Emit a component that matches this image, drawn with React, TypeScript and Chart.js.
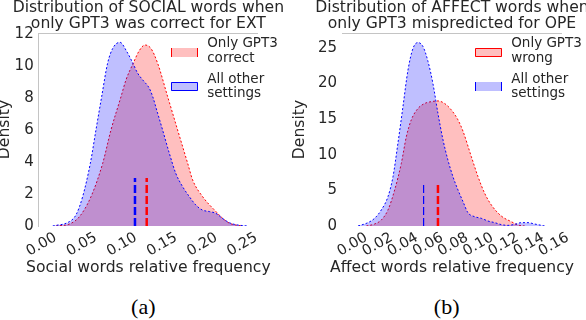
import React, { useEffect, useRef } from "react";
import { Chart, registerables } from "chart.js";

Chart.register(...registerables);

const FONT = "'DejaVu Sans', sans-serif";
const TEXT = "#262626";
const SPINE = "#c4c4c4";
const RED = "rgb(255,0,0)";
const BLUE = "rgb(0,0,255)";
const RED_FILL = "rgba(255,0,0,0.25)";
const BLUE_FILL = "rgba(0,0,255,0.25)";

// ---------- Panel (a) ----------
const titleA = ["Distribution of SOCIAL words when", "only GPT3 was correct for EXT"];
const xLabelA = "Social words relative frequency";
const xTicksA = [0, 0.05, 0.1, 0.15, 0.2, 0.25];
const xTickLabelsA = ["0.00", "0.05", "0.10", "0.15", "0.20", "0.25"];
const yTicksA = [0, 2, 4, 6, 8, 10, 12];
const legendA = [["Only GPT3", "correct"], ["All other", "settings"]];
const redXA = [0.0178, 0.0344, 0.047, 0.0614, 0.076, 0.0863, 0.0988, 0.105, 0.114, 0.1216, 0.1286, 0.136, 0.1444, 0.1569, 0.1693, 0.1818, 0.188, 0.2005, 0.2171, 0.2254, 0.234, 0.242, 0.25];
const redYA = [0, 0.12, 0.58, 1.83, 3.92, 6.0, 8.08, 9.13, 10.17, 10.96, 11.31, 11.1, 10.17, 8.08, 6.0, 3.92, 2.88, 1.83, 0.9, 0.48, 0.17, 0.06, 0];
const blueXA = [0.0137, 0.0344, 0.0427, 0.051, 0.0606, 0.0676, 0.0747, 0.0821, 0.0885, 0.0975, 0.106, 0.1133, 0.1195, 0.1258, 0.1341, 0.1383, 0.1444, 0.1506, 0.159, 0.167, 0.1755, 0.184, 0.192, 0.2, 0.209, 0.217, 0.225, 0.234, 0.242, 0.2565];
const blueYA = [0, 0.27, 0.69, 1.83, 3.92, 6.0, 8.08, 10.17, 11.1, 11.48, 10.9, 10.2, 9.55, 9.13, 8.6, 8.08, 7.05, 6.0, 4.54, 3.29, 2.46, 1.83, 1.31, 1.0, 0.9, 0.79, 0.48, 0.2, 0.08, 0];
const meanXA = [0.1308, 0.1162]; // [red, blue]
const meanTopA = 3;

// ---------- Panel (b) ----------
const titleB = ["Distribution of AFFECT words when", "only GPT3 mispredicted for OPE"];
const xLabelB = "Affect words relative frequency";
const xTicksB = [0, 0.02, 0.04, 0.06, 0.08, 0.1, 0.12, 0.14, 0.16];
const xTickLabelsB = ["0.00", "0.02", "0.04", "0.06", "0.08", "0.10", "0.12", "0.14", "0.16"];
const yTicksB = [0, 5, 10, 15, 20, 25];
const legendB = [["Only GPT3", "wrong"], ["All other", "settings"]];
const redXB = [0.011, 0.0176, 0.0229, 0.0282, 0.0335, 0.0388, 0.0428, 0.0467, 0.052, 0.0573, 0.0626, 0.0679, 0.0732, 0.0785, 0.0838, 0.0878, 0.0944, 0.0997, 0.105, 0.1103, 0.1182, 0.1262, 0.1315, 0.1368];
const redYB = [0, 0.28, 0.84, 2.25, 5.06, 8.8, 12.55, 14.9, 16.5, 17.2, 17.46, 17.56, 17.2, 16.3, 14.9, 13.3, 9.74, 6.93, 4.59, 2.95, 1.4, 0.6, 0.14, 0];
const blueXB = [0.0044, 0.0123, 0.0176, 0.0229, 0.0282, 0.0322, 0.0361, 0.0401, 0.0441, 0.0481, 0.052, 0.056, 0.06, 0.0639, 0.0679, 0.0719, 0.0758, 0.0798, 0.0838, 0.0878, 0.0917, 0.097, 0.1023, 0.1076, 0.113, 0.1183, 0.1235, 0.1288, 0.1341, 0.1394, 0.1447, 0.1526];
const blueYB = [0, 0.47, 1.08, 2.25, 4.12, 6.93, 11.6, 16.76, 21.9, 24.95, 25.75, 25.2, 23.1, 20.0, 15.8, 12.1, 9.27, 6.93, 5.06, 3.42, 1.87, 1.31, 1.08, 0.7, 0.47, 0.19, 0.09, 0.23, 0.47, 0.47, 0.28, 0];
const meanXB = [0.0679, 0.0565]; // [red, blue]
const meanTopB = 6;

type Spec = {
  title: string[];
  xLabel: string;
  xMin: number;
  xMax: number;
  yMax: number;
  xTicks: number[];
  xTickLabels: string[];
  yTicks: number[];
  legend: string[][];
  legendFull: boolean[];
  redX: number[];
  redY: number[];
  blueX: number[];
  blueY: number[];
  meanX: number[];
  meanTop: number;
  meanWidths: number[];
  yAxisWidth: number;
  yTitlePad: number;
  padRight: number;
  leftSpine: boolean;
};

const specA: Spec = {
  title: titleA, xLabel: xLabelA, xMin: -0.0037, xMax: 0.2694, yMax: 12.06,
  xTicks: xTicksA, xTickLabels: xTickLabelsA, yTicks: yTicksA, legend: legendA,
  legendFull: [false, true], redX: redXA, redY: redYA, blueX: blueXA, blueY: blueYA,
  meanX: meanXA, meanTop: meanTopA, meanWidths: [2.5, 2.5],
  yAxisWidth: 38.7, yTitlePad: -2.6, padRight: 32, leftSpine: true,
};

const specB: Spec = {
  title: titleB, xLabel: xLabelB, xMin: -0.0083, xMax: 0.1664, yMax: 27.1,
  xTicks: xTicksB, xTickLabels: xTickLabelsB, yTicks: yTicksB, legend: legendB,
  legendFull: [true, false], redX: redXB, redY: redYB, blueX: blueXB, blueY: blueYB,
  meanX: meanXB, meanTop: meanTopB, meanWidths: [2.5, 1.2],
  yAxisWidth: 52, yTitlePad: 2.4, padRight: 24, leftSpine: false,
};

function buildConfig(s: Spec): any {
  const pts = (xs: number[], ys: number[]) => xs.map((x, i) => ({ x, y: ys[i] }));

  // Panel title and x-axis label (drawn without Chart.js' maxWidth squeezing)
  const textPlugin = {
    id: "panelTexts",
    afterDraw(chart: any) {
      const { ctx, chartArea } = chart;
      ctx.save();
      ctx.font = `15.6px ${FONT}`;
      ctx.fillStyle = TEXT;
      ctx.textAlign = "center";
      ctx.textBaseline = "middle";
      const cx = (chartArea.left + chartArea.right) / 2;
      s.title.forEach((line, i) => {
        ctx.fillText(line, cx, chartArea.top - 25.3 + i * 16.7);
      });
      ctx.fillText(s.xLabel, cx, chartArea.bottom + 41.5);
      ctx.restore();
    },
  };

  const spinePlugin = {
    id: "topSpine",
    beforeDatasetsDraw(chart: any) {
      const { ctx, chartArea } = chart;
      ctx.save();
      ctx.strokeStyle = SPINE;
      ctx.lineWidth = 1;
      ctx.beginPath();
      ctx.moveTo(chartArea.left, Math.round(chartArea.top) + 0.5);
      ctx.lineTo(chartArea.right, Math.round(chartArea.top) + 0.5);
      ctx.stroke();
      ctx.restore();
    },
  };

  const legendPlugin = {
    id: "panelLegend",
    afterDraw(chart: any) {
      const { ctx, chartArea } = chart;
      const items = [
        { fill: RED_FILL, stroke: RED, lines: s.legend[0], full: s.legendFull[0] },
        { fill: BLUE_FILL, stroke: BLUE, lines: s.legend[1], full: s.legendFull[1] },
      ];
      ctx.save();
      items.forEach((it, i) => {
        const px = Math.round(chartArea.right - 87.5);
        const py = Math.round(chartArea.top + 15.3 + i * 33.4);
        const w = 27;
        const h = 9;
        ctx.fillStyle = it.fill;
        ctx.fillRect(px, py, w, h);
        ctx.strokeStyle = it.stroke;
        ctx.lineWidth = 1;
        ctx.beginPath();
        if (it.full) {
          ctx.rect(px + 0.5, py + 0.5, w - 1, h - 1);
        } else {
          ctx.moveTo(px + 0.5, py);
          ctx.lineTo(px + 0.5, py + h);
          ctx.moveTo(px + w - 0.5, py);
          ctx.lineTo(px + w - 0.5, py + h);
        }
        ctx.stroke();
        ctx.font = `13.5px ${FONT}`;
        ctx.fillStyle = TEXT;
        ctx.textAlign = "left";
        ctx.textBaseline = "alphabetic";
        const tx = chartArea.right - 50.8;
        const ty = chartArea.top + 14 + i * 35.5;
        it.lines.forEach((ln, j) => ctx.fillText(ln, tx, ty + j * 14.8));
      });
      ctx.restore();
    },
  };

  const curve = (xs: number[], ys: number[], color: string, fillColor: string, label: string, order: number) => ({
    label,
    data: pts(xs, ys),
    borderColor: color,
    backgroundColor: fillColor,
    borderWidth: 1,
    borderDash: [2, 2],
    fill: "origin",
    pointRadius: 0,
    cubicInterpolationMode: "monotone",
    order,
  });

  const mean = (x: number, color: string, width: number, label: string) => ({
    label,
    data: [{ x, y: 0 }, { x, y: s.meanTop }],
    borderColor: color,
    borderWidth: width,
    borderDash: [8, 3],
    borderCapStyle: "butt",
    fill: false,
    pointRadius: 0,
    order: 0,
  });

  return {
    type: "line",
    data: {
      datasets: [
        mean(s.meanX[0], RED, s.meanWidths[0], "mean red"),
        mean(s.meanX[1], BLUE, s.meanWidths[1], "mean blue"),
        curve(s.blueX, s.blueY, BLUE, BLUE_FILL, s.legend[1].join(" "), 1),
        curve(s.redX, s.redY, RED, RED_FILL, s.legend[0].join(" "), 2),
      ],
    },
    options: {
      responsive: false,
      animation: false,
      events: [],
      layout: { padding: { top: 33, right: s.padRight, bottom: 0, left: 0 } },
      plugins: {
        legend: { display: false },
        tooltip: { enabled: false },
        title: { display: false },
      },
      scales: {
        x: {
          type: "linear",
          min: s.xMin,
          max: s.xMax,
          afterBuildTicks: (sc: any) => {
            sc.ticks = s.xTicks.map((v) => ({ value: v }));
          },
          afterFit: (sc: any) => {
            sc.height = 59;
          },
          grid: { display: false, drawTicks: false },
          border: { display: false },
          ticks: {
            autoSkip: false,
            minRotation: 30,
            maxRotation: 30,
            padding: 3,
            labelOffset: 14,
            color: TEXT,
            font: { family: FONT, size: 14.5 },
            callback: (_v: any, i: number) => s.xTickLabels[i],
          },
          title: { display: false },
        },
        y: {
          type: "linear",
          min: 0,
          max: s.yMax,
          afterBuildTicks: (sc: any) => {
            sc.ticks = s.yTicks.map((v) => ({ value: v }));
          },
          afterFit: (sc: any) => {
            sc.width = s.yAxisWidth;
          },
          grid: { display: false, drawTicks: false },
          border: { display: s.leftSpine, color: SPINE, width: 1 },
          ticks: {
            padding: 5,
            color: TEXT,
            font: { family: FONT, size: 15 },
            callback: (v: any) => String(v),
          },
          title: {
            display: true,
            text: "Density",
            color: TEXT,
            font: { family: FONT, size: 15.6, lineHeight: 1 },
            padding: { top: s.yTitlePad, bottom: 0 },
          },
        },
      },
    },
    plugins: [spinePlugin, textPlugin, legendPlugin],
  };
}

function Panel({ spec, left, width }: { spec: Spec; left: number; width: number }) {
  const ref = useRef<HTMLCanvasElement>(null);
  useEffect(() => {
    const chart = new Chart(ref.current as HTMLCanvasElement, buildConfig(spec));
    return () => chart.destroy();
  }, [spec]);
  return (
    <canvas
      ref={ref}
      width={width}
      height={285}
      style={{ position: "absolute", left, top: 0, width, height: 285 }}
    />
  );
}

const captionStyle = (cx: number): React.CSSProperties => ({
  position: "absolute",
  left: cx - 50,
  top: 296,
  width: 100,
  textAlign: "center",
  fontFamily: "'Liberation Serif', 'Times New Roman', serif",
  fontSize: 22,
  lineHeight: "22px",
  color: "#000",
});

export default function App() {
  return (
    <div style={{ position: "absolute", left: 0, top: 0, width: 586, height: 320, background: "#fff", overflow: "hidden" }}>
      <Panel spec={specA} left={0} width={290} />
      <Panel spec={specB} left={290} width={296} />
      <div style={captionStyle(143.3)}>(a)</div>
      <div style={captionStyle(446.7)}>(b)</div>
    </div>
  );
}
